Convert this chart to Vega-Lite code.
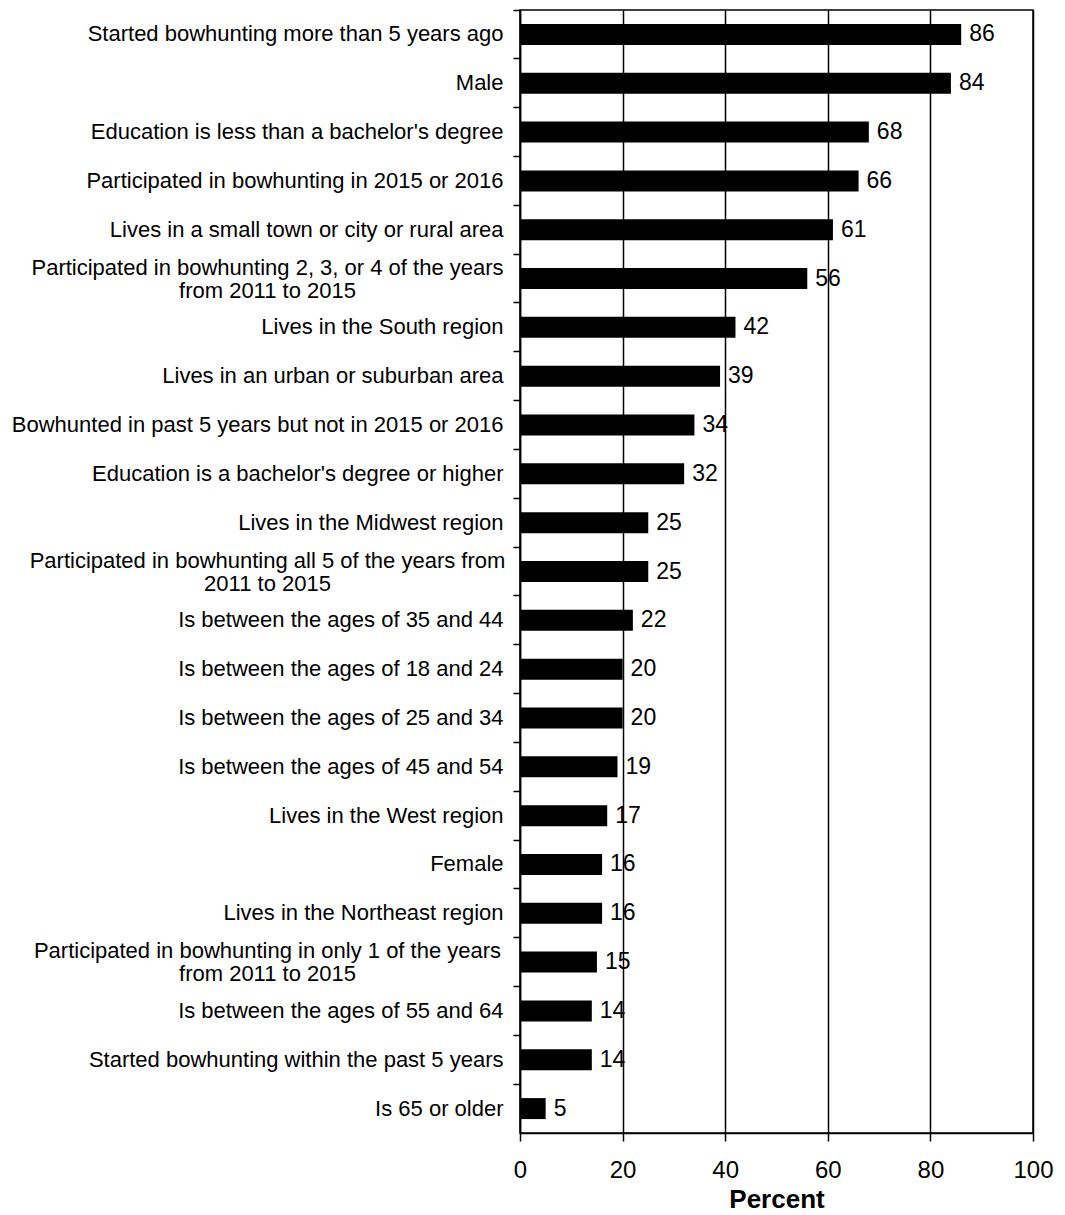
{
  "$schema": "https://vega.github.io/schema/vega-lite/v6.json",
  "width": 513,
  "height": 1123,
  "autosize": "none",
  "padding": {"left": 520, "top": 10, "right": 32, "bottom": 82},
  "background": "white",
  "config": {
    "font": "Liberation Sans",
    "view": {"stroke": "black", "strokeWidth": 1.5}
  },
  "data": {
    "values": [
      {"label": "Started bowhunting more than 5 years ago", "pct": 86},
      {"label": "Male", "pct": 84},
      {"label": "Education is less than a bachelor's degree", "pct": 68},
      {"label": "Participated in bowhunting in 2015 or 2016", "pct": 66},
      {"label": "Lives in a small town or city or rural area", "pct": 61},
      {"label": "Participated in bowhunting 2, 3, or 4 of the years|from 2011 to 2015", "pct": 56},
      {"label": "Lives in the South region", "pct": 42},
      {"label": "Lives in an urban or suburban area", "pct": 39},
      {"label": "Bowhunted in past 5 years but not in 2015 or 2016", "pct": 34},
      {"label": "Education is a bachelor's degree or higher", "pct": 32},
      {"label": "Lives in the Midwest region", "pct": 25},
      {"label": "Participated in bowhunting all 5 of the years from|2011 to 2015", "pct": 25},
      {"label": "Is between the ages of 35 and 44", "pct": 22},
      {"label": "Is between the ages of 18 and 24", "pct": 20},
      {"label": "Is between the ages of 25 and 34", "pct": 20},
      {"label": "Is between the ages of 45 and 54", "pct": 19},
      {"label": "Lives in the West region", "pct": 17},
      {"label": "Female", "pct": 16},
      {"label": "Lives in the Northeast region", "pct": 16},
      {"label": "Participated in bowhunting in only 1 of the years|from 2011 to 2015", "pct": 15},
      {"label": "Is between the ages of 55 and 64", "pct": 14},
      {"label": "Started bowhunting within the past 5 years", "pct": 14},
      {"label": "Is 65 or older", "pct": 5}
    ]
  },
  "encoding": {
    "y": {
      "field": "label",
      "type": "nominal",
      "sort": null,
      "scale": {"paddingInner": 0, "paddingOuter": 0},
      "axis": {
        "title": null,
        "bandPosition": 0,
        "domainColor": "black",
        "domainWidth": 1.5,
        "tickColor": "black",
        "tickWidth": 1.5,
        "tickSize": 7,
        "grid": false,
        "labelFontSize": 22,
        "labelColor": "black",
        "labelLimit": 600,
        "labelLineHeight": 23,
        "labelExpr": "split(datum.label, '|')",
        "labelAlign": {"condition": {"test": "indexof(datum.value, '|') >= 0", "value": "center"}, "value": "right"},
        "labelPadding": {"condition": {"test": "indexof(datum.value, '|') >= 0", "value": 246}, "value": 10},
        "labelOffset": {"condition": {"test": "indexof(datum.value, '|') >= 0", "value": -11}, "value": 0}
      }
    }
  },
  "layer": [
    {
      "mark": {"type": "bar", "color": "black", "height": {"band": 0.43}},
      "encoding": {
        "x": {
          "field": "pct",
          "type": "quantitative",
          "scale": {"domain": [0, 100], "nice": false},
          "axis": {
            "title": "Percent",
            "titleFontSize": 26,
            "titleFontWeight": "bold",
            "titleColor": "black",
            "titlePadding": 4,
            "values": [0, 20, 40, 60, 80, 100],
            "labelFontSize": 24,
            "labelColor": "black",
            "labelPadding": 17,
            "labelFlush": false,
            "domainColor": "black",
            "domainWidth": 1.5,
            "tickColor": "black",
            "tickWidth": 1.5,
            "tickSize": 8,
            "grid": true,
            "gridColor": "black",
            "gridWidth": 1.5,
            "gridOpacity": 1
          }
        }
      }
    },
    {
      "mark": {"type": "text", "align": "left", "baseline": "middle", "dx": 8, "fontSize": 23, "color": "black"},
      "encoding": {
        "x": {"field": "pct", "type": "quantitative"},
        "text": {"field": "pct", "type": "quantitative"}
      }
    }
  ]
}
